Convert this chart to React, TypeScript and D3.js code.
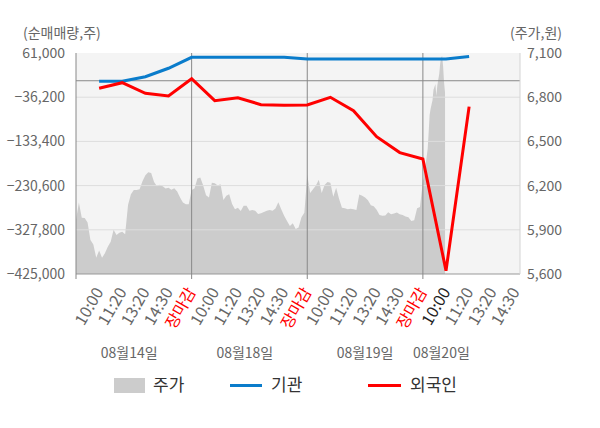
import { useEffect, useRef } from "react";
import * as d3 from "d3";

// 날짜와 시간 눈금
const days = ["08월14일", "08월18일", "08월19일", "08월20일"];
const dayTimes = ["10:00", "11:20", "13:20", "14:30", "장마감"];
const dateLabelAt = [2.3, 7.3, 12.5, 15.8];

// 순매매량 (10:00 08/14 부터 11:20 08/20 까지)
const institution = [
  -1000, -1000, 8900, 27400, 51500, 51500, 51500, 51500, 51500, 47800, 47800,
  47800, 47800, 47800, 47800, 48000, 53300,
];
const foreigner = [
  -16600, -4300, -27600, -33600, 4500, -43900, -37300, -52700, -54000, -53400,
  -36400, -65800, -123000, -158000, -172000, -417700, -57000,
];

// 주가 (하루 40개 표본, 마지막 날은 더 촘촘히)
const price0814 = [
  5967, 6085, 5982, 5980, 5950, 5831, 5800, 5711, 5760, 5711, 5740, 5785, 5819,
  5900, 5865, 5880, 5887, 5870, 6068, 6141, 6170, 6170, 6175, 6230, 6270, 6290,
  6285, 6225, 6195, 6205, 6195, 6180, 6186, 6172, 6182, 6160, 6120, 6085, 6073,
  6073,
];
const price0818 = [
  6170, 6180, 6249, 6255, 6200, 6135, 6120, 6220, 6216, 6200, 6209, 6102, 6131,
  6141, 6075, 6040, 6050, 6028, 6064, 6064, 6030, 6034, 6030, 6008, 6012, 6020,
  6030, 6034, 6030, 6045, 6087, 6040, 5995, 5960, 5925, 5945, 5905, 5915, 5985,
  6015,
];
const price0819 = [
  6272, 6150, 6175, 6200, 6240, 6150, 6204, 6225, 6220, 6125, 6185, 6110, 6050,
  6046, 6040, 6043, 6040, 6035, 6140, 6131, 6120, 6100, 6066, 6060, 6036, 6000,
  5995, 5997, 6019, 6005, 6010, 6018, 6005, 6000, 5990, 5985, 5960, 5965, 6046,
  6055,
];
const price0820 = [
  6230, 6250, 6300, 6350, 6400, 6450, 6560, 6680, 6720, 6750, 6780, 6850, 6870,
  6890, 6810, 6880, 6920, 6960, 7030, 7070, 7080, 7010, 6900, 6830,
];
const priceDays = [price0814, price0818, price0819, price0820];
const samplesPerDay = [40, 40, 40, 120];

const leftTicks = [61000, -36200, -133400, -230600, -327800, -425000];
const rightTicks = [7100, 6800, 6500, 6200, 5900, 5600];

const FONT = "'Noto Sans CJK KR', 'Noto Sans', sans-serif";

export default function App() {
  const ref = useRef<SVGSVGElement>(null);

  useEffect(() => {
    if (!ref.current) return;
    document.body.style.margin = "0";
    const svg = d3.select(ref.current);
    svg.selectAll("*").remove();

    const left = 76;
    const right = 520;
    const top = 53;
    const bottom = 274;
    const perDay = dayTimes.length;

    const x = d3.scaleLinear().domain([0, 19.2]).range([left, right]);
    const yL = d3.scaleLinear().domain([-425000, 61000]).range([bottom, top]);
    const yR = d3.scaleLinear().domain([5600, 7100]).range([bottom, top]);

    // 배경
    svg
      .append("rect")
      .attr("x", left)
      .attr("y", top)
      .attr("width", right - left)
      .attr("height", bottom - top)
      .attr("fill", "#f4f4f4");

    // 주가 영역
    const pricePts: { t: number; v: number }[] = [];
    priceDays.forEach((arr, d) => {
      arr.forEach((v, i) => {
        pricePts.push({ t: d * perDay + (i * perDay) / samplesPerDay[d], v });
      });
    });
    const area = d3
      .area<{ t: number; v: number }>()
      .x((d) => x(d.t))
      .y0(bottom)
      .y1((d) => yR(d.v));
    svg.append("path").datum(pricePts).attr("d", area).attr("fill", "#cccccc");

    // 격자
    svg
      .selectAll(".grid")
      .data(leftTicks.slice(1, -1))
      .enter()
      .append("line")
      .attr("x1", left)
      .attr("x2", right)
      .attr("y1", (d) => yL(d))
      .attr("y2", (d) => yL(d))
      .attr("stroke", "#dddddd");

    svg
      .append("line")
      .attr("x1", left)
      .attr("x2", right)
      .attr("y1", yL(0))
      .attr("y2", yL(0))
      .attr("stroke", "#888");

    // 축 선
    svg
      .append("line")
      .attr("x1", left)
      .attr("x2", right)
      .attr("y1", bottom)
      .attr("y2", bottom)
      .attr("stroke", "#999");
    svg
      .append("line")
      .attr("x1", right)
      .attr("x2", right)
      .attr("y1", top)
      .attr("y2", bottom)
      .attr("stroke", "#d4d4d4");
    svg
      .selectAll(".vline")
      .data([0, 5, 10, 15])
      .enter()
      .append("line")
      .attr("x1", (d) => x(d))
      .attr("x2", (d) => x(d))
      .attr("y1", top)
      .attr("y2", bottom + 5)
      .attr("stroke", "#888");

    // 기관, 외국인
    const flowLine = d3
      .line<number>()
      .x((_, i) => x(i + 1))
      .y((d) => yL(d));
    svg
      .append("path")
      .datum(institution)
      .attr("d", flowLine)
      .attr("fill", "none")
      .attr("stroke", "#0a7ccb")
      .attr("stroke-width", 3);
    svg
      .append("path")
      .datum(foreigner)
      .attr("d", flowLine)
      .attr("fill", "none")
      .attr("stroke", "#ff0000")
      .attr("stroke-width", 3);

    // 왼쪽/오른쪽 눈금
    svg
      .selectAll(".ltick")
      .data(leftTicks)
      .enter()
      .append("text")
      .attr("x", 65)
      .attr("y", (d) => yL(d))
      .attr("dy", "0.35em")
      .attr("text-anchor", "end")
      .attr("font-family", FONT)
      .attr("font-size", 14)
      .attr("fill", "#666")
      .text((d) => d3.format(",")(d));
    svg
      .selectAll(".rtick")
      .data(rightTicks)
      .enter()
      .append("text")
      .attr("x", 527)
      .attr("y", (d) => yR(d))
      .attr("dy", "0.35em")
      .attr("font-family", FONT)
      .attr("font-size", 14)
      .attr("fill", "#666")
      .text((d) => d3.format(",")(d));

    svg
      .append("text")
      .attr("x", 23)
      .attr("y", 38)
      .attr("font-family", FONT)
      .attr("font-size", 14)
      .attr("fill", "#666")
      .text("(순매매량,주)");
    svg
      .append("text")
      .attr("x", 562)
      .attr("y", 38)
      .attr("text-anchor", "end")
      .attr("font-family", FONT)
      .attr("font-size", 14)
      .attr("fill", "#666")
      .text("(주가,원)");

    // 시간 눈금
    const timeTicks: { t: number; label: string; day: number }[] = [];
    days.forEach((_, d) => {
      dayTimes.forEach((label, k) => {
        const t = d * perDay + k + 1;
        if (t < 20) timeTicks.push({ t, label, day: d });
      });
    });
    svg
      .selectAll(".xtick")
      .data(timeTicks)
      .enter()
      .append("text")
      .attr("transform", (d) => `translate(${x(d.t)},${bottom + 15}) rotate(-60)`)
      .attr("text-anchor", "end")
      .attr("dy", "0.35em")
      .attr("font-family", FONT)
      .attr("font-size", 16)
      .attr("fill", (d) =>
        d.label === "장마감"
          ? "#ff0000"
          : d.day === 3 && d.label === "10:00"
          ? "#222"
          : "#666"
      )
      .text((d) => d.label);

    svg
      .selectAll(".date")
      .data(days)
      .enter()
      .append("text")
      .attr("x", (_, i) => x(dateLabelAt[i]))
      .attr("y", 358)
      .attr("text-anchor", "middle")
      .attr("font-family", FONT)
      .attr("font-size", 14)
      .attr("fill", "#666")
      .text((d) => d);

    // 범례
    const legend = svg.append("g").attr("font-family", FONT);
    legend
      .append("rect")
      .attr("x", 114)
      .attr("y", 378)
      .attr("width", 31)
      .attr("height", 15)
      .attr("fill", "#cccccc");
    legend
      .append("text")
      .attr("x", 153)
      .attr("y", 385.5)
      .attr("dy", "0.35em")
      .attr("font-size", 17)
      .attr("fill", "#333")
      .text("주가");
    legend
      .append("line")
      .attr("x1", 230)
      .attr("x2", 262)
      .attr("y1", 385.5)
      .attr("y2", 385.5)
      .attr("stroke", "#0a7ccb")
      .attr("stroke-width", 3);
    legend
      .append("text")
      .attr("x", 271)
      .attr("y", 385.5)
      .attr("dy", "0.35em")
      .attr("font-size", 17)
      .attr("fill", "#333")
      .text("기관");
    legend
      .append("line")
      .attr("x1", 368)
      .attr("x2", 401)
      .attr("y1", 385.5)
      .attr("y2", 385.5)
      .attr("stroke", "#ff0000")
      .attr("stroke-width", 3);
    legend
      .append("text")
      .attr("x", 410)
      .attr("y", 385.5)
      .attr("dy", "0.35em")
      .attr("font-size", 17)
      .attr("fill", "#333")
      .text("외국인");
  }, []);

  return <svg ref={ref} width={600} height={428} style={{ display: "block" }} />;
}
